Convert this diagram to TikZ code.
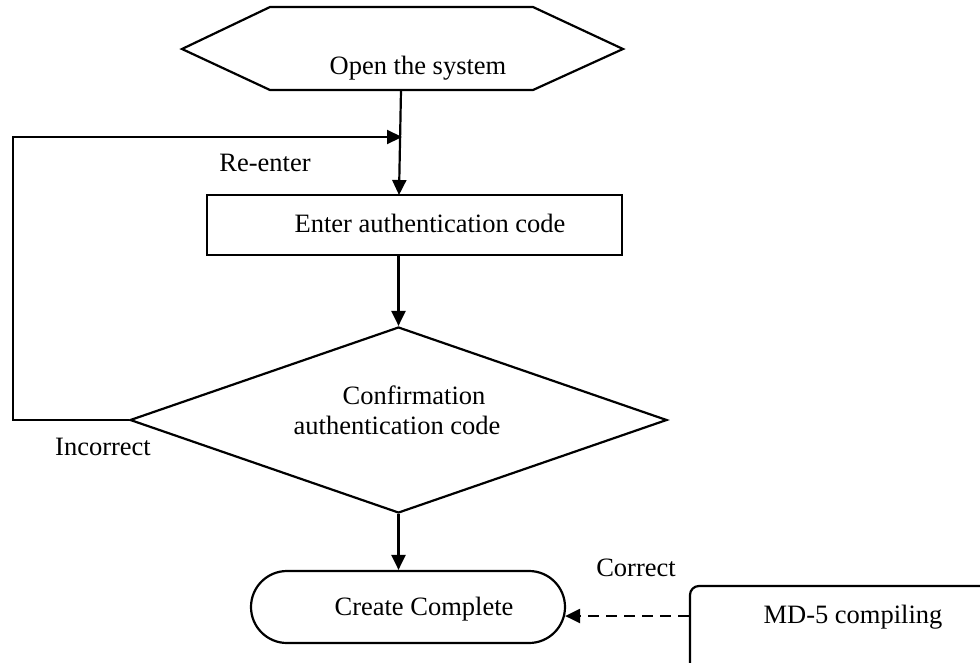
\documentclass[tikz,border=0pt]{standalone}
\usepackage{fontspec}
\setmainfont{Liberation Serif}
\usetikzlibrary{shapes.geometric,arrows.meta}
\begin{document}
\begin{tikzpicture}[x=1pt,y=-1pt,
  line width=2.2pt,
  every node/.style={font=\fontsize{26.5}{30}\selectfont},
  box/.style={draw,rectangle,inner sep=0pt},
  decision/.style={draw,diamond,inner sep=0pt},
  label/.style={anchor=base,inner sep=0pt},
  arr/.style={-{Triangle[length=15pt,width=14pt]}},
  dasharr/.style={-{Triangle[length=15pt,width=14pt]},dash pattern=on 11pt off 7pt}]
\useasboundingbox (0,0) rectangle (980,662);
\clip (0,0) rectangle (980,662);
% hexagon (start)
\draw[line join=miter] (182,49) -- (270,7) -- (533,7) -- (623,49) -- (533,90) -- (270,90) -- cycle;
\coordinate (hexb) at (401,90);
\node[label] (topen) at (418,74) {Open the system};
% rectangle
\node[box,minimum width=415pt,minimum height=60pt] (enter) at (414.5,225) {};
\node[label] (tenter) at (430,232) {Enter authentication code};
% diamond
\node[decision,minimum width=537pt,minimum height=186pt] (conf) at (398.5,420) {};
\node[label] (tconf1) at (414,404) {Confirmation};
\node[label] (tconf2) at (397,434) {authentication code};
% stadium
\node[box,rounded corners=36pt,minimum width=314pt,minimum height=72pt] (create) at (408,607) {};
\node[label] (tcreate) at (424,615) {Create Complete};
% MD-5 box (clipped)
\node[box,rounded corners=9pt,minimum width=320pt,minimum height=100pt] (md5) at (850,636) {};
\node[label] (tmd5) at (853,623) {MD-5 compiling};
% labels
\node[label] (lre) at (265,171) {Re-enter};
\node[label] (linc) at (103,455) {Incorrect};
\node[label] (lcor) at (636,576) {Correct};
% connectors
\coordinate (enterin) at (399,195);
\draw[arr] (hexb) -- (enterin);
\coordinate (loopA) at (13,420);
\coordinate (loopB) at (13,137);
\coordinate (loopC) at (402,137);
\draw[arr,line join=miter] (conf.west) -- (loopA) -- (loopB) -- (loopC);
\draw[arr] (enter.south -| conf.north) -- (conf.north);
\draw[arr] (conf.south) -- (conf.south |- create.north);
\coordinate (dashy) at (0,616);
\draw[dasharr] (md5.west |- dashy) -- ([xshift=-1pt]create.east |- dashy);
\end{tikzpicture}
\end{document}
